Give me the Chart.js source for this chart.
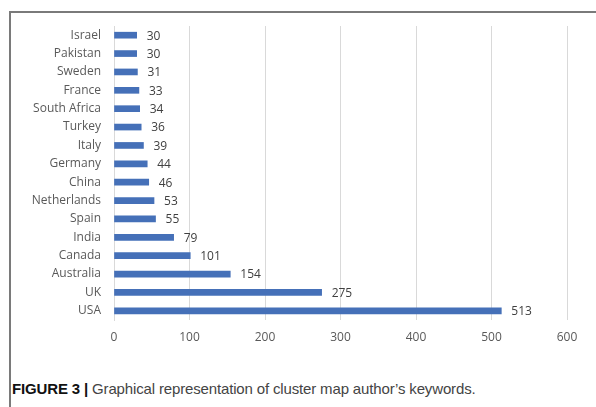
<!DOCTYPE html>
<html>
<head>
<meta charset="utf-8">
<script src="https://cdn.jsdelivr.net/npm/chart.js@4"></script>
<style>
  body { margin: 0; background: #fff; }
  #frame {
    position: absolute; left: 9px; top: 11px; width: 587px; height: 396px;
    border-top: 2px solid #7a7a7a; border-left: 2px solid #7a7a7a;
  }
  #wrap { position: absolute; left: 0; top: 0; width: 596px; height: 360px; }
  #caption {
    position: absolute; left: 12px; top: 380px;
    font-family: "Liberation Sans", Arial, sans-serif; font-size: 15px;
    color: #444; letter-spacing: -0.15px; white-space: nowrap;
  }
  #caption b { color: #111; }
</style>
</head>
<body>
<div id="frame"></div>
<div id="wrap"><canvas id="chart"></canvas></div>
<div id="caption"><b>FIGURE 3 |</b> Graphical representation of cluster map author’s keywords.</div>
<script>
// Countries (top to bottom) and keyword counts
const countries = ['Israel', 'Pakistan', 'Sweden', 'France', 'South Africa', 'Turkey', 'Italy',
    'Germany', 'China', 'Netherlands', 'Spain', 'India', 'Canada', 'Australia', 'UK', 'USA'];
const counts = [30, 30, 31, 33, 34, 36, 39, 44, 46, 53, 55, 79, 101, 154, 275, 513];
const xTicks = [0, 100, 200, 300, 400, 500, 600];

const labelFont = { family: '"Open Sans", "Liberation Sans", sans-serif', size: 12 };

// value labels next to bar ends
const valueLabels = {
    id: 'valueLabels',
    afterDatasetsDraw(chart) {
        const ctx = chart.ctx;
        const meta = chart.getDatasetMeta(0);
        ctx.save();
        ctx.font = '12px "Open Sans", "Liberation Sans", sans-serif';
        ctx.fillStyle = '#404040';
        ctx.textAlign = 'left';
        ctx.textBaseline = 'middle';
        meta.data.forEach((bar, i) => {
            ctx.fillText(String(counts[i]), bar.x + 10, bar.y + 1);
        });
        ctx.restore();
    }
};

const ctx = document.getElementById('chart').getContext('2d');
new Chart(ctx, {
    type: 'bar',
    data: {
        labels: countries,
        datasets: [{
            data: counts,
            backgroundColor: '#4570b8',
            barThickness: 6
        }]
    },
    options: {
        indexAxis: 'y',
        responsive: true,
        maintainAspectRatio: false,
        animation: false,
        layout: { padding: { top: 26, right: 29, left: 0, bottom: 0 } },
        plugins: {
            legend: { display: false },
            tooltip: { enabled: false }
        },
        scales: {
            x: {
                min: 0,
                max: 600,
                afterBuildTicks: (s) => { s.ticks = xTicks.map(v => ({ value: v })); },
                afterFit: (s) => { s.height = 40; },
                grid: { color: '#d9d9d9', drawTicks: false },
                border: { display: false },
                ticks: { color: '#595959', font: labelFont, padding: 10 }
            },
            y: {
                afterFit: (s) => { s.width = 114; },
                grid: { display: false, drawTicks: false },
                border: { display: true, color: '#d9d9d9' },
                ticks: { color: '#595959', font: labelFont, padding: 13, autoSkip: false }
            }
        }
    },
    plugins: [valueLabels]
});
</script>
</body>
</html>
